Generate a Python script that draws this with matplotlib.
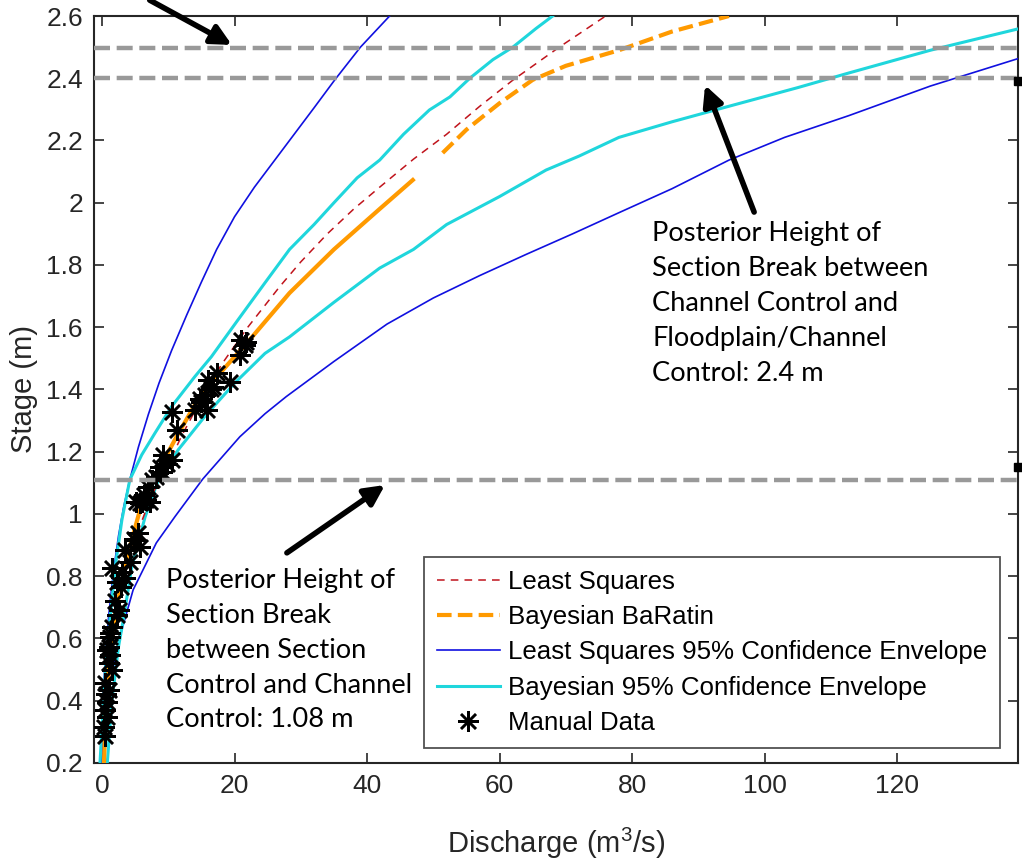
import matplotlib
matplotlib.use("Agg")
import matplotlib.pyplot as plt
from matplotlib.ticker import FuncFormatter, MultipleLocator

plt.rcParams["font.family"] = ["Liberation Sans", "DejaVu Sans"]
plt.rcParams["mathtext.fontset"] = "custom"
plt.rcParams["mathtext.rm"] = "Liberation Sans"

# Least-squares rating curve
ls_q = [0.3, 0.6, 1.2, 1.9, 3.2, 4.4, 5.7, 7.5, 9.8, 12.0, 14.0, 16.0, 18.2, 22.0, 26.8, 30.0,
        34.0, 38.0, 41.9, 47.0, 52.0, 57.0, 62.0, 69.0, 76.0]
ls_h = [0.2, 0.35, 0.5, 0.62, 0.8, 0.88, 0.96, 1.06, 1.15, 1.25, 1.33, 1.41, 1.485, 1.6, 1.73,
        1.81, 1.9, 1.98, 2.05, 2.14, 2.22, 2.31, 2.394, 2.5, 2.6]

# Bayesian BaRatin rating curve
ba_q = [0.3, 0.6, 1.2, 2.0, 3.2, 4.4, 5.7, 8.0, 11.3, 14.0, 17.3, 22.3, 28.3, 35.0, 41.9, 46.9,
        51.4, 55.0, 60.0, 65.0, 70.0, 78.0, 86.0, 94.6]
ba_h = [0.2, 0.38, 0.55, 0.68, 0.8, 0.91, 1.01, 1.12, 1.25, 1.35, 1.44, 1.56, 1.71, 1.85, 1.98,
        2.073, 2.16, 2.235, 2.32, 2.395, 2.44, 2.49, 2.55, 2.6]
ba_split = 16

# Least-squares 95% envelope
ls_up_q = [0.0, 0.05, 0.2, 0.5, 1.0, 1.7, 2.5, 3.3, 4.2, 5.5, 7.0, 8.6, 10.5, 12.8, 15.0, 17.3,
           20.0, 23.0, 26.0, 29.0, 32.0, 35.1, 39.0, 43.4]
ls_up_h = [0.2, 0.3, 0.42, 0.54, 0.67, 0.81, 0.93, 1.025, 1.11, 1.215, 1.32, 1.42, 1.525, 1.64,
           1.745, 1.85, 1.955, 2.05, 2.135, 2.22, 2.305, 2.394, 2.50, 2.6]
ls_lo_q = [0.2, 0.45, 1.2, 2.7, 4.7, 8.2, 11.0, 15.2, 20.8, 24.6, 27.8, 35.0, 43.0, 50.0, 57.0,
           64.0, 71.0, 78.0, 86.0, 94.6, 103.0, 112.7, 125.0, 138.5]
ls_lo_h = [0.2, 0.296, 0.457, 0.605, 0.756, 0.907, 0.991, 1.112, 1.248, 1.322, 1.377, 1.49, 1.61,
           1.694, 1.766, 1.834, 1.90, 1.968, 2.045, 2.137, 2.21, 2.28, 2.375, 2.465]

# Bayesian 95% envelope
ba_up_q = [-0.3, 0.1, 0.7, 1.25, 2.0, 3.0, 4.2, 6.0, 8.0, 10.5, 14.0, 16.5, 20.5, 24.5, 28.3,
           32.0, 35.0, 38.5, 41.9, 45.5, 49.4, 52.5, 55.5, 59.0, 62.0, 65.5, 68.0]
ba_up_h = [0.2, 0.35, 0.56, 0.67, 0.83, 0.98, 1.11, 1.19, 1.26, 1.345, 1.441, 1.505, 1.623,
           1.74, 1.85, 1.93, 2.0, 2.08, 2.137, 2.22, 2.298, 2.34, 2.40, 2.46, 2.5, 2.56, 2.6]
ba_lo_q = [0.8, 1.5, 2.5, 3.3, 4.5, 6.5, 8.5, 11.5, 15.5, 20.0, 24.6, 28.3, 35.0, 41.9, 47.0,
           52.0, 60.0, 67.0, 72.0, 78.0, 86.0, 94.6, 105.0, 112.7, 125.0, 138.5]
ba_lo_h = [0.2, 0.4, 0.574, 0.67, 0.83, 0.99, 1.109, 1.206, 1.313, 1.42, 1.516, 1.569, 1.68,
           1.79, 1.85, 1.93, 2.02, 2.105, 2.15, 2.21, 2.26, 2.31, 2.37, 2.417, 2.49, 2.56]

# Manual gaugings
obs_q = [21.8, 21.0, 21.6, 20.8, 19.3, 17.3, 16.0, 16.8, 15.5, 15.0, 14.0, 15.8, 10.5, 11.3,
         9.2, 10.5, 8.7, 9.0, 7.5, 7.0, 6.0, 7.2, 6.7, 5.2, 5.8, 5.5, 5.0, 5.8, 3.5, 4.3,
         1.5, 3.0, 3.5, 2.8, 2.5, 2.3, 1.5, 1.25, 1.0, 1.25, 0.75, 1.25, 1.0, 1.5, 0.5,
         1.0, 0.75, 0.5, 0.75, 0.25, 0.5, 16.5, 14.8, 9.8, 8.2, 6.4, 4.8, 2.0, 2.2, 0.6]
obs_h = [1.554, 1.559, 1.543, 1.511, 1.425, 1.452, 1.43, 1.409, 1.382, 1.361, 1.334, 1.334,
         1.329, 1.27, 1.19, 1.173, 1.152, 1.136, 1.109, 1.088, 1.04, 1.04, 1.045, 1.04, 1.034,
         0.938, 0.916, 0.895, 0.884, 0.847, 0.826, 0.815, 0.793, 0.766, 0.692, 0.675, 0.638,
         0.617, 0.574, 0.606, 0.563, 0.547, 0.52, 0.499, 0.456, 0.435, 0.397, 0.37, 0.349,
         0.317, 0.285, 1.40, 1.37, 1.16, 1.12, 1.06, 0.92, 0.72, 0.78, 0.42]

# Posterior section-break heights
breaks = [2.497, 2.4, 1.11]

x_ticks = [0, 20, 40, 60, 80, 100, 120]

fig = plt.figure(figsize=(10.22, 8.65), dpi=100)
ax = fig.add_axes([0.092, 0.118, 0.904, 0.8635])

ax.plot(ls_q, ls_h, color="#C0141C", lw=1.1, dashes=(5, 4), label="Least Squares", zorder=4)
ax.plot(ba_q[:ba_split], ba_h[:ba_split], color="#FF9A00", lw=3, zorder=4)
ax.plot(ba_q[ba_split:], ba_h[ba_split:], color="#FF9A00", lw=3, dashes=(3.5, 1.5),
        label="Bayesian BaRatin", zorder=4)
ax.plot(ls_up_q, ls_up_h, color="#1010E0", lw=1.2, label="Least Squares 95% Confidence Envelope", zorder=3)
ax.plot(ls_lo_q, ls_lo_h, color="#1010E0", lw=1.2, zorder=3)
ax.plot(ba_up_q, ba_up_h, color="#1FD6DC", lw=2.2, label="Bayesian 95% Confidence Envelope", zorder=3)
ax.plot(ba_lo_q, ba_lo_h, color="#1FD6DC", lw=2.2, zorder=3)
ax.plot(obs_q, obs_h, ls="none", marker=(8, 2, 0), ms=15, mew=1.8, color="black",
        label="Manual Data", zorder=5)

for b in breaks:
    ax.axhline(b, color="#999999", lw=3.2, dashes=(3.6, 1.5), zorder=6)

# small black marks on the right edge
ax.plot([138.2, 138.2], [2.39, 1.15], ls="none", marker="s", ms=6, color="black", clip_on=False, zorder=7)

ax.set_xlim(-1.2, 138.2)
ax.set_ylim(0.2, 2.6)
ax.set_xticks(x_ticks)
ax.yaxis.set_major_locator(MultipleLocator(0.2))
ax.yaxis.set_major_formatter(FuncFormatter(lambda v, p: f"{v:g}"))
ax.tick_params(direction="in", length=7, width=1.2, top=True, right=True,
               labelsize=19, colors="#262626", pad=8)
for s in ax.spines.values():
    s.set_color("#262626")
    s.set_linewidth(1.5)

ax.set_xlabel("Discharge (m$^3$/s)", fontsize=21, color="#262626", labelpad=20)
ax.set_ylabel("Stage (m)", fontsize=21, color="#262626", labelpad=6)

leg = ax.legend(loc="lower right", bbox_to_anchor=(0.9805, 0.02), borderaxespad=0,
                fontsize=18.6, frameon=True, fancybox=False, edgecolor="#262626",
                handlelength=2.45, handletextpad=0.3, labelspacing=0.44, borderpad=0.5)
leg.get_frame().set_linewidth(1.3)

arrow = dict(arrowstyle="-|>", lw=4, mutation_scale=30, color="black", shrinkA=0, shrinkB=0)
ax.annotate("", xy=(19.6, 2.507), xytext=(7.2, 2.651), arrowprops=arrow, annotation_clip=False)
ax.annotate("", xy=(91.0, 2.378), xytext=(98.4, 1.97), arrowprops=arrow, annotation_clip=False)
ax.annotate("", xy=(42.7, 1.093), xytext=(27.9, 0.875), arrowprops=arrow, annotation_clip=False)

note_font = dict(fontsize=19.6, family="Lato", color="black", va="top", ha="left", linespacing=1.49)
ax.text(83.0, 1.94, "Posterior Height of\nSection Break between\nChannel Control and\n"
        "Floodplain/Channel\nControl: 2.4 m", **note_font)
ax.text(9.65, 0.826, "Posterior Height of\nSection Break\nbetween Section\n"
        "Control and Channel\nControl: 1.08 m", **note_font)

fig.savefig("out.png", dpi=100)
